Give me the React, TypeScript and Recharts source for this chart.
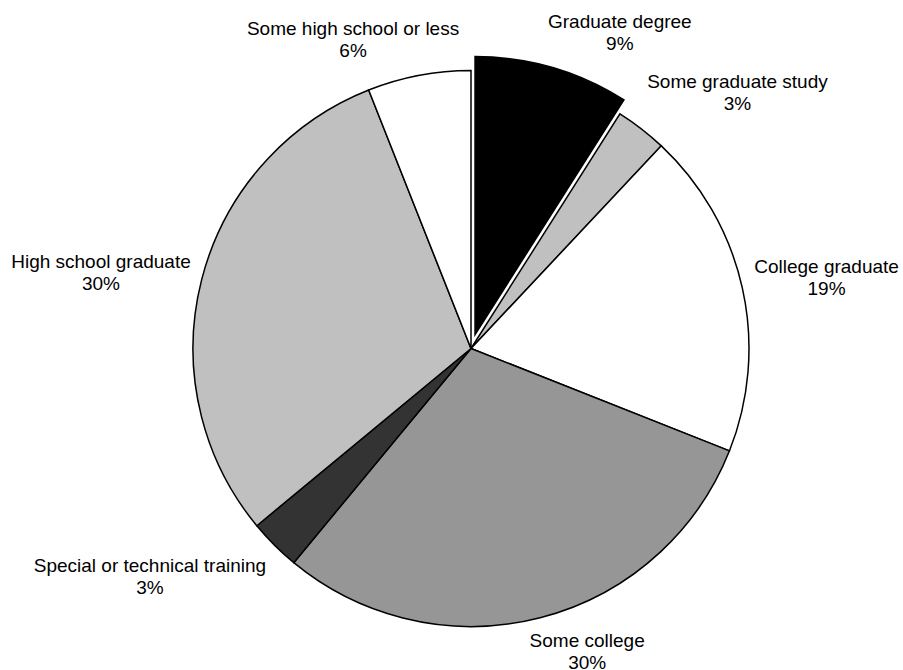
import React from 'react';
import { PieChart, Pie, Cell } from 'recharts';

// Highest level of education reached, share of respondents (%)
const CATEGORIES = [
  'Graduate degree',
  'Some graduate study',
  'College graduate',
  'Some college',
  'Special or technical training',
  'High school graduate',
  'Some high school or less',
];
const SHARES = [9, 3, 19, 30, 3, 30, 6];

// Slice styling
const SLICE_FILLS = ['#000000', '#c0c0c0', '#ffffff', '#969696', '#333333', '#c0c0c0', '#ffffff'];
const EXPLODED_INDEX = 0;

// Label placement: distance from the pie centre and a clockwise turn (degrees) from each slice's mid-angle
const LABEL_RADIUS = [349.6, 369.8, 362.6, 324.2, 393.9, 377.8, 330.6];
const LABEL_TURN = [9.0, 8.3, 1.3, -6.6, 9.6, -2.75, -10.1];

const WIDTH = 903;
const HEIGHT = 670;
const PIE_CX = 471;
const PIE_CY = 348.5;
const PIE_R = 278;
const EXPLODE_DISTANCE = 14.5;
const FONT = '"Liberation Sans", Arial, Helvetica, sans-serif';

const data = CATEGORIES.map((name, i) => ({ name, value: SHARES[i] }));

const total = SHARES.reduce((a, b) => a + b, 0);
const explodedStart = SHARES.slice(0, EXPLODED_INDEX).reduce((a, b) => a + b, 0);
// Recharts angle convention: degrees counter-clockwise from 3 o'clock; pie starts at 90 and runs clockwise
const explodedMid = 90 - ((explodedStart + SHARES[EXPLODED_INDEX] / 2) / total) * 360;
const EXPLODE_DX = EXPLODE_DISTANCE * Math.cos((explodedMid * Math.PI) / 180);
const EXPLODE_DY = -EXPLODE_DISTANCE * Math.sin((explodedMid * Math.PI) / 180);

const renderLabel = (props: any) => {
  const { midAngle, index, name, value } = props;
  const angle = ((midAngle - LABEL_TURN[index]) * Math.PI) / 180;
  const x = PIE_CX + LABEL_RADIUS[index] * Math.cos(angle);
  const y = PIE_CY - LABEL_RADIUS[index] * Math.sin(angle);
  return (
    <text
      key={`label-${index}`}
      x={x}
      y={y}
      textAnchor="middle"
      fontFamily={FONT}
      fontSize={19}
      fill="#000"
    >
      <tspan x={x} y={y - 4.2}>{name}</tspan>
      <tspan x={x} y={y + 17.8}>{`${value}%`}</tspan>
    </text>
  );
};

export default function App() {
  return (
    <div style={{ position: 'absolute', left: 0, top: 0, width: WIDTH, height: HEIGHT, background: '#fff' }}>
      <PieChart width={WIDTH} height={HEIGHT} margin={{ top: 0, right: 0, bottom: 0, left: 0 }}>
        <Pie
          data={data}
          dataKey="value"
          nameKey="name"
          cx={PIE_CX}
          cy={PIE_CY}
          outerRadius={PIE_R}
          startAngle={90}
          endAngle={-270}
          stroke="#000"
          strokeWidth={1.5}
          label={renderLabel}
          labelLine={false}
          isAnimationActive={false}
        >
          {data.map((d, i) =>
            i === EXPLODED_INDEX ? (
              <Cell key={d.name} fill="none" stroke="none" />
            ) : (
              <Cell key={d.name} fill={SLICE_FILLS[i]} />
            )
          )}
        </Pie>
        <Pie
          data={data}
          dataKey="value"
          nameKey="name"
          cx={PIE_CX + EXPLODE_DX}
          cy={PIE_CY + EXPLODE_DY}
          outerRadius={PIE_R}
          startAngle={90}
          endAngle={-270}
          stroke="#000"
          strokeWidth={1.5}
          label={false}
          labelLine={false}
          isAnimationActive={false}
        >
          {data.map((d, i) =>
            i === EXPLODED_INDEX ? (
              <Cell key={d.name} fill={SLICE_FILLS[i]} />
            ) : (
              <Cell key={d.name} fill="none" stroke="none" />
            )
          )}
        </Pie>
      </PieChart>
    </div>
  );
}
